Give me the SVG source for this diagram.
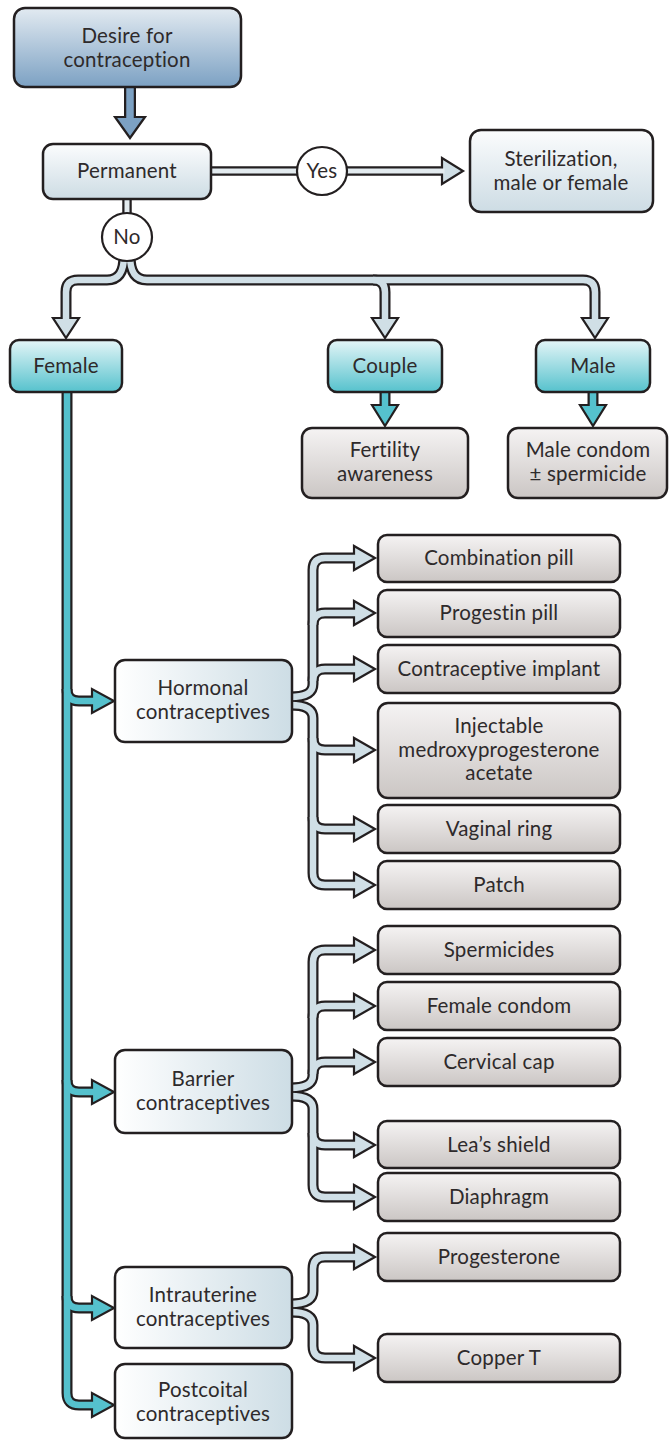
<svg xmlns="http://www.w3.org/2000/svg" width="669" height="1441" viewBox="0 0 669 1441">
<defs>
<linearGradient id="gDesire" x1="0" y1="0" x2="0" y2="1"><stop offset="0" stop-color="#e2eaf1"/><stop offset="1" stop-color="#7ca1c3"/></linearGradient>
<linearGradient id="gPale" x1="0" y1="0" x2="0" y2="1"><stop offset="0" stop-color="#fbfcfd"/><stop offset="1" stop-color="#cddce4"/></linearGradient>
<linearGradient id="gTeal" x1="0" y1="0" x2="0" y2="1"><stop offset="0" stop-color="#e4f5f7"/><stop offset="1" stop-color="#56c2cd"/></linearGradient>
<linearGradient id="gGray" x1="0" y1="0" x2="0" y2="1"><stop offset="0" stop-color="#f5f3f3"/><stop offset="1" stop-color="#cbc6c4"/></linearGradient>
<linearGradient id="gMid" x1="0" y1="0" x2="1" y2="0"><stop offset="0" stop-color="#ffffff"/><stop offset="1" stop-color="#cddde5"/></linearGradient>
</defs>
<style>
text{font-family:"Lato","Open Sans","Liberation Sans",sans-serif;font-size:20.5px;letter-spacing:0.2px;fill:#2e2a2b;text-anchor:middle}
.box{stroke:#231f20;stroke-width:2.5}
.circ{fill:#ffffff;stroke:#231f20;stroke-width:2.2}
.pd{fill:none;stroke:#231f20;stroke-width:11}
.pl{fill:none;stroke:#d0dfe6;stroke-width:6.5}
.td{fill:none;stroke:#231f20;stroke-width:11}
.tl{fill:none;stroke:#55c1cd;stroke-width:6.5}
.hl{fill:#d0dfe6;stroke:#231f20;stroke-width:2.2;stroke-linejoin:miter}
.ht{fill:#55c1cd;stroke:#231f20;stroke-width:2.2;stroke-linejoin:miter}
.hb{fill:#7ca1c3;stroke:#231f20;stroke-width:2.2;stroke-linejoin:miter}
.bd{fill:none;stroke:#231f20;stroke-width:12}
.bl{fill:none;stroke:#7ca1c3;stroke-width:7.5}
.yd{fill:none;stroke:#231f20;stroke-width:9.5}
.yl{fill:none;stroke:#e3ebef;stroke-width:5}
</style>
<g id="connectors">
<path class="bd" d="M130,86 V119"/>
<path class="yd" d="M210,171 H300"/>
<path class="yd" d="M345,171 H444"/>
<path class="yd" d="M127,198 V216"/>
<path class="pd" d="M124,255 C124,272 119,280 107,280 H78 Q66,280 66,292 V320"/>
<path class="pd" d="M130,255 C130,272 135,280 147,280 H583 Q595,280 595,292 V320"/>
<path class="pd" d="M373,280 Q385,280 385,292 V320"/>
<path class="td" d="M385,391 V407"/>
<path class="td" d="M593,391 V407"/>
<path class="td" d="M67,391 V1393 Q67,1405 79,1405 H94"/>
<path class="td" d="M67,689 Q67,701 79,701 H94"/>
<path class="td" d="M67,1080 Q67,1092 79,1092 H94"/>
<path class="td" d="M67,1296 Q67,1308 79,1308 H94"/>
<path class="pd" d="M290,697 C304,697 313,694 313,684 V570 Q313,558 325,558 H356"/>
<path class="pd" d="M313,625 Q313,613 325,613 H356"/>
<path class="pd" d="M313,681 Q313,669 325,669 H356"/>
<path class="pd" d="M290,705 C304,705 313,708 313,718 V873 Q313,885 325,885 H356"/>
<path class="pd" d="M313,738 Q313,750 325,750 H356"/>
<path class="pd" d="M313,817 Q313,829 325,829 H356"/>
<path class="pd" d="M290,1088 C304,1088 313,1085 313,1075 V962 Q313,950 325,950 H356"/>
<path class="pd" d="M313,1018 Q313,1006 325,1006 H356"/>
<path class="pd" d="M313,1074 Q313,1062 325,1062 H356"/>
<path class="pd" d="M290,1096 C304,1096 313,1099 313,1109 V1185 Q313,1197 325,1197 H356"/>
<path class="pd" d="M313,1133 Q313,1145 325,1145 H356"/>
<path class="pd" d="M290,1304 C304,1304 313,1301 313,1291 V1269 Q313,1257 325,1257 H356"/>
<path class="pd" d="M290,1312 C304,1312 313,1315 313,1325 V1346 Q313,1358 325,1358 H356"/>
<polygon class="hb" points="115,117 145,117 130,138"/>
<polygon class="hl" points="442,158 442,184 463,171"/>
<polygon class="hl" points="53,318 79,318 66,338"/>
<polygon class="hl" points="372,318 398,318 385,338"/>
<polygon class="hl" points="582,318 608,318 595,338"/>
<polygon class="ht" points="372,405 398,405 385,426"/>
<polygon class="ht" points="580,405 606,405 593,426"/>
<polygon class="ht" points="92,689 92,713 114,701"/>
<polygon class="ht" points="92,1080 92,1104 114,1092"/>
<polygon class="ht" points="92,1296 92,1320 114,1308"/>
<polygon class="ht" points="92,1393 92,1417 114,1405"/>
<polygon class="hl" points="354,546 354,570 375,558"/>
<polygon class="hl" points="354,601 354,625 375,613"/>
<polygon class="hl" points="354,657 354,681 375,669"/>
<polygon class="hl" points="354,738 354,762 375,750"/>
<polygon class="hl" points="354,817 354,841 375,829"/>
<polygon class="hl" points="354,873 354,897 375,885"/>
<polygon class="hl" points="354,938 354,962 375,950"/>
<polygon class="hl" points="354,994 354,1018 375,1006"/>
<polygon class="hl" points="354,1050 354,1074 375,1062"/>
<polygon class="hl" points="354,1133 354,1157 375,1145"/>
<polygon class="hl" points="354,1185 354,1209 375,1197"/>
<polygon class="hl" points="354,1245 354,1269 375,1257"/>
<polygon class="hl" points="354,1346 354,1370 375,1358"/>
<path class="bl" d="M130,86 V119.5"/>
<path class="yl" d="M210,171 H300"/>
<path class="yl" d="M345,171 H444.5"/>
<path class="yl" d="M127,198 V216"/>
<path class="pl" d="M124,255 C124,272 119,280 107,280 H78 Q66,280 66,292 V320.5"/>
<path class="pl" d="M130,255 C130,272 135,280 147,280 H583 Q595,280 595,292 V320.5"/>
<path class="pl" d="M373,280 Q385,280 385,292 V320.5"/>
<path class="tl" d="M385,391 V407.5"/>
<path class="tl" d="M593,391 V407.5"/>
<path class="tl" d="M67,391 V1393 Q67,1405 79,1405 H94.5"/>
<path class="tl" d="M67,689 Q67,701 79,701 H94.5"/>
<path class="tl" d="M67,1080 Q67,1092 79,1092 H94.5"/>
<path class="tl" d="M67,1296 Q67,1308 79,1308 H94.5"/>
<path class="pl" d="M290,697 C304,697 313,694 313,684 V570 Q313,558 325,558 H356.5"/>
<path class="pl" d="M313,625 Q313,613 325,613 H356.5"/>
<path class="pl" d="M313,681 Q313,669 325,669 H356.5"/>
<path class="pl" d="M290,705 C304,705 313,708 313,718 V873 Q313,885 325,885 H356.5"/>
<path class="pl" d="M313,738 Q313,750 325,750 H356.5"/>
<path class="pl" d="M313,817 Q313,829 325,829 H356.5"/>
<path class="pl" d="M290,1088 C304,1088 313,1085 313,1075 V962 Q313,950 325,950 H356.5"/>
<path class="pl" d="M313,1018 Q313,1006 325,1006 H356.5"/>
<path class="pl" d="M313,1074 Q313,1062 325,1062 H356.5"/>
<path class="pl" d="M290,1096 C304,1096 313,1099 313,1109 V1185 Q313,1197 325,1197 H356.5"/>
<path class="pl" d="M313,1133 Q313,1145 325,1145 H356.5"/>
<path class="pl" d="M290,1304 C304,1304 313,1301 313,1291 V1269 Q313,1257 325,1257 H356.5"/>
<path class="pl" d="M290,1312 C304,1312 313,1315 313,1325 V1346 Q313,1358 325,1358 H356.5"/>
</g>
<g id="desire"><rect class="box" x="14" y="8" width="227" height="79" rx="11" fill="url(#gDesire)"/><text x="127" y="43">Desire for</text><text x="127" y="67">contraception</text></g>
<g id="permanent"><rect class="box" x="43" y="144" width="168" height="55" rx="10" fill="url(#gPale)"/><text x="127" y="178">Permanent</text></g>
<g id="yes"><ellipse class="circ" cx="322" cy="171" rx="25" ry="24"/><text x="322" y="178">Yes</text></g>
<g id="sterilization"><rect class="box" x="470" y="130" width="183" height="82" rx="11" fill="url(#gPale)"/><text x="561" y="166">Sterilization,</text><text x="561" y="190">male or female</text></g>
<g id="no"><ellipse class="circ" cx="127" cy="237" rx="25" ry="24"/><text x="127" y="244">No</text></g>
<g id="female"><rect class="box" x="10" y="340" width="112" height="52" rx="9" fill="url(#gTeal)"/><text x="66" y="373">Female</text></g>
<g id="couple"><rect class="box" x="328" y="340" width="114" height="52" rx="9" fill="url(#gTeal)"/><text x="385" y="373">Couple</text></g>
<g id="male"><rect class="box" x="536" y="340" width="114" height="52" rx="9" fill="url(#gTeal)"/><text x="593" y="373">Male</text></g>
<g id="fertility"><rect class="box" x="302" y="428" width="166" height="70" rx="10" fill="url(#gGray)"/><text x="385" y="457">Fertility</text><text x="385" y="481">awareness</text></g>
<g id="malecondom"><rect class="box" x="508" y="428" width="159" height="70" rx="10" fill="url(#gGray)"/><text x="588" y="457">Male condom</text><text x="588" y="481">± spermicide</text></g>
<g id="hormonal"><rect class="box" x="115" y="660" width="177" height="82" rx="10" fill="url(#gMid)"/><text x="203" y="695">Hormonal</text><text x="203" y="719">contraceptives</text></g>
<g id="barrier"><rect class="box" x="115" y="1050" width="177" height="83" rx="10" fill="url(#gMid)"/><text x="203" y="1086">Barrier</text><text x="203" y="1110">contraceptives</text></g>
<g id="intrauterine"><rect class="box" x="115" y="1267" width="177" height="81" rx="10" fill="url(#gMid)"/><text x="203" y="1302">Intrauterine</text><text x="203" y="1326">contraceptives</text></g>
<g id="postcoital"><rect class="box" x="115" y="1364" width="177" height="74" rx="10" fill="url(#gMid)"/><text x="203" y="1397">Postcoital</text><text x="203" y="1421">contraceptives</text></g>
<g id="combination"><rect class="box" x="378" y="535" width="242" height="47" rx="9" fill="url(#gGray)"/><text x="499" y="565">Combination pill</text></g>
<g id="progestin"><rect class="box" x="378" y="590" width="242" height="47" rx="9" fill="url(#gGray)"/><text x="499" y="620">Progestin pill</text></g>
<g id="implant"><rect class="box" x="378" y="645" width="242" height="48" rx="9" fill="url(#gGray)"/><text x="499" y="676">Contraceptive implant</text></g>
<g id="injectable"><rect class="box" x="378" y="703" width="242" height="95" rx="10" fill="url(#gGray)"/><text x="499" y="733">Injectable</text><text x="499" y="757">medroxyprogesterone</text><text x="499" y="780">acetate</text></g>
<g id="vaginalring"><rect class="box" x="378" y="805" width="242" height="48" rx="9" fill="url(#gGray)"/><text x="499" y="836">Vaginal ring</text></g>
<g id="patch"><rect class="box" x="378" y="861" width="242" height="48" rx="9" fill="url(#gGray)"/><text x="499" y="892">Patch</text></g>
<g id="spermicides"><rect class="box" x="378" y="926" width="242" height="48" rx="9" fill="url(#gGray)"/><text x="499" y="957">Spermicides</text></g>
<g id="femalecondom"><rect class="box" x="378" y="982" width="242" height="48" rx="9" fill="url(#gGray)"/><text x="499" y="1013">Female condom</text></g>
<g id="cervicalcap"><rect class="box" x="378" y="1038" width="242" height="48" rx="9" fill="url(#gGray)"/><text x="499" y="1069">Cervical cap</text></g>
<g id="leasshield"><rect class="box" x="378" y="1121" width="242" height="47" rx="9" fill="url(#gGray)"/><text x="499" y="1152">Lea’s shield</text></g>
<g id="diaphragm"><rect class="box" x="378" y="1173" width="242" height="48" rx="9" fill="url(#gGray)"/><text x="499" y="1204">Diaphragm</text></g>
<g id="progesterone"><rect class="box" x="378" y="1233" width="242" height="48" rx="9" fill="url(#gGray)"/><text x="499" y="1264">Progesterone</text></g>
<g id="coppert"><rect class="box" x="378" y="1334" width="242" height="48" rx="9" fill="url(#gGray)"/><text x="499" y="1365">Copper T</text></g>
</svg>
